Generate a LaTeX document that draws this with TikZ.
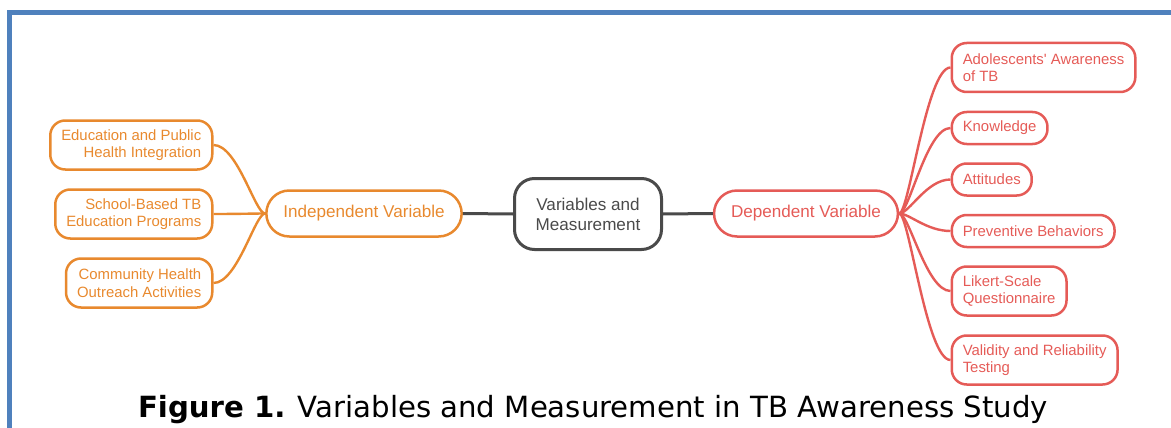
\documentclass[tikz,border=0pt]{standalone}
\usepackage{fontspec}
\setmainfont{Liberation Sans}[Ligatures=TeXOff]
\newfontfamily\capfont{DejaVu Sans}
\definecolor{framblue}{HTML}{4F81BD}
\definecolor{indorange}{HTML}{E8892E}
\definecolor{depred}{HTML}{E55B57}
\definecolor{hubgray}{HTML}{4A4A4A}
\begin{document}
\begin{tikzpicture}[x=1pt,y=-1pt,
  leaf/.style={draw, line width=2.5pt, rounded corners=15pt, inner xsep=11pt, inner ysep=0pt,
    font=\fontsize{14.9}{17.5}\selectfont},
  oneline/.style={leaf, minimum height=32pt},
  twoline/.style={leaf, minimum height=49pt},
  branch/.style={draw, line width=2.5pt, rounded corners=23pt, inner xsep=17pt, inner ysep=0pt,
    minimum height=46pt, font=\fontsize{17.1}{20}\selectfont},
  indep/.style={draw=indorange, text=indorange},
  dep/.style={draw=depred, text=depred},
  link/.style={line width=2.4pt},
  hublink/.style={line width=3pt, hubgray}
]
\useasboundingbox (0,0) rectangle (1171,428);

% page frame
\draw[framblue, line width=5pt] (9.5,428) -- (9.5,12.5) -- (1171,12.5);

% hub
\node[draw=hubgray, text=hubgray, line width=3pt, rounded corners=20pt, minimum width=147pt,
  minimum height=71pt, align=center, font=\fontsize{17.1}{20}\selectfont]
  (hub) at (588,214) {Variables and\\Measurement};

% branches
\node[branch, indep] (ind) at (364,213.5) {Independent Variable};
\node[branch, dep] (depv) at (806,213.5) {Dependent Variable};

\draw[hublink] (ind.east) -- (hub.west);
\draw[hublink] (hub.east) -- (depv.west);

% independent variable items
\node[twoline, indep, align=right, anchor=east] (edu) at (213.5,145) {Education and Public\\Health Integration};
\node[twoline, indep, align=right, anchor=east] (school) at (213.5,214) {School-Based TB\\Education Programs};
\node[twoline, indep, align=right, anchor=east] (comm) at (213.5,283) {Community Health\\Outreach Activities};

% dependent variable items
\node[twoline, dep, align=left, anchor=west] (aware) at (950.5,67.5) {Adolescents' Awareness\\of TB};
\node[oneline, dep, anchor=west] (know) at (950.5,128) {Knowledge};
\node[oneline, dep, anchor=west] (att) at (950.5,179.5) {Attitudes};
\node[oneline, dep, anchor=west] (prev) at (950.5,231) {Preventive Behaviors};
\node[twoline, dep, align=left, anchor=west] (likert) at (950.5,291) {Likert-Scale\\Questionnaire};
\node[twoline, dep, align=left, anchor=west] (valid) at (950.5,360) {Validity and Reliability\\Testing};

% connectors
\foreach \c in {edu,school,comm}
  \draw[link, indorange] (\c.east) .. controls +(24,0) and +(-10,0) .. (ind.west);
\foreach \c in {aware,know,att,prev,likert,valid}
  \draw[link, depred] (depv.east) .. controls +(10,0) and +(-24,0) .. (\c.west);

% caption
\node[font=\capfont\fontsize{29.2}{34}\selectfont, text=black] (cap) at (593,410)
  {\textbf{Figure 1.} Variables and Measurement in TB Awareness Study};
\end{tikzpicture}
\end{document}
